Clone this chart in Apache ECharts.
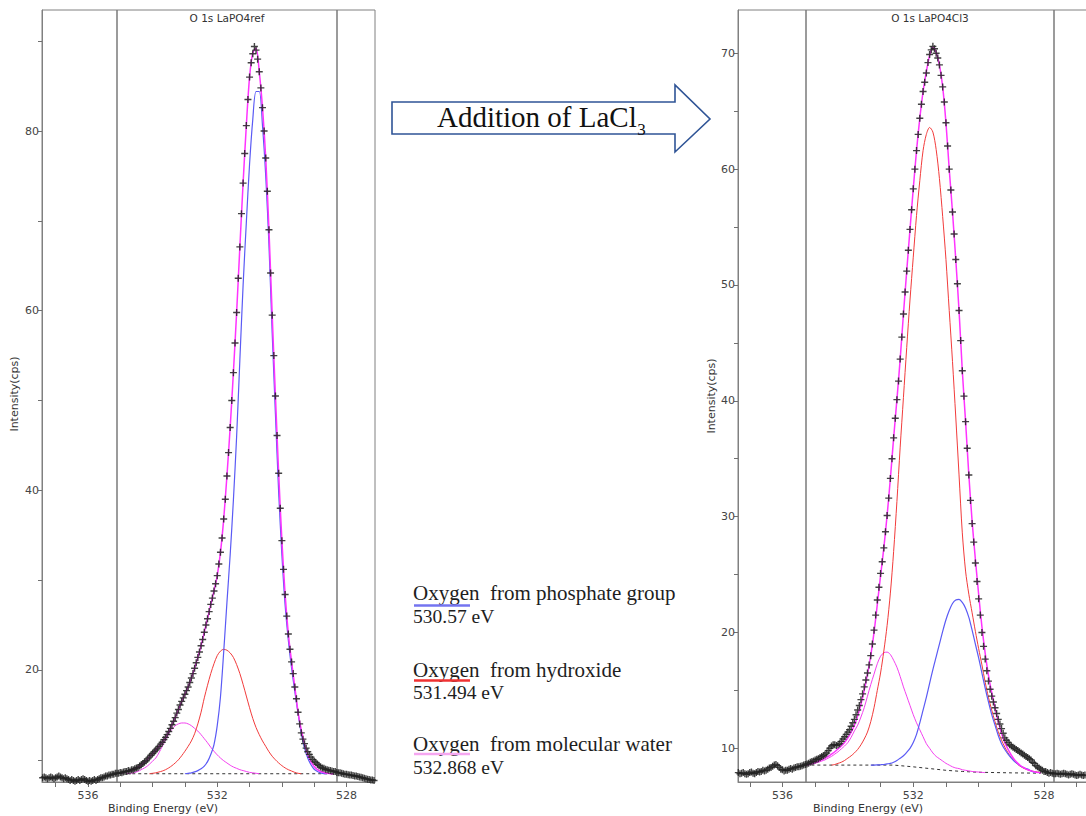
<!DOCTYPE html>
<html><head><meta charset="utf-8">
<script src="https://cdn.jsdelivr.net/npm/echarts@6/dist/echarts.min.js"></script>
<style>html,body{margin:0;padding:0;background:#fff}#c{width:1086px;height:816px}</style>
</head><body><div id="c"></div>
<script>
// ---------------- DATA ----------------
const DATA_STEP = 0.05;   // eV between measured points
const CURVE_STEP = 0.1;   // eV between read-off curve points

// Left spectrum: O 1s LaPO4ref
const leftTitle = 'O 1s LaPO4ref';
const leftDataStart = 537.40;
const leftData = [
8.0,8.1,8.0,7.9,8.0,8.1,8.0,7.9,8.0,8.1,
8.2,8.1,8.0,7.9,8.0,7.9,7.8,7.7,7.8,7.7,
7.6,7.7,7.8,7.7,7.8,7.9,7.8,7.7,7.6,7.7,
7.6,7.7,7.8,7.7,7.8,7.9,8.0,8.0,8.1,8.2,
8.2,8.3,8.3,8.4,8.4,8.5,8.5,
8.5,8.6,8.55,8.65,8.7,8.7,8.8,8.75,8.9,8.9,
9.0,9.1,9.15,9.3,9.45,9.6,9.75,9.9,10.1,10.3,
10.5,10.7,10.9,11.1,11.3,11.5,11.75,11.95,12.25,12.5,
12.8,13.15,13.5,13.9,14.3,14.7,15.2,15.6,16.1,16.5,
16.9,17.3,17.7,18.1,18.6,19.1,19.6,20.2,20.8,21.4,
22.0,22.7,23.4,24.2,25.0,25.7,26.5,27.3,28.0,28.8,
29.6,
30.5,31.8,33.1,34.7,36.8,39.0,41.6,44.2,47.0,50.0,
53.1,56.4,59.8,63.6,67.1,70.8,74.2,77.5,80.6,83.5,
86.0,87.6,88.6,89.4,
89.0,88.0,86.6,84.8,82.6,80.0,77.0,73.3,69.0,64.2,
59.5,55.0,50.5,46.1,41.9,38.0,34.4,31.2,28.4,26.0,
24.0,22.3,20.9,19.6,18.1,16.8,15.3,14.0,13.0,12.3,
11.8,11.3,10.9,10.6,10.3,10.05,9.85,9.7,9.5,9.35,
9.2,9.1,9.05,8.95,8.9,8.85,8.8,8.75,8.7,8.7,
8.6,8.55,8.55,8.5,8.45,8.4,8.4,8.35,8.3,8.3,
8.25,8.2,8.2,8.15,8.1,8.05,8.0,7.95,7.9,7.85,
7.8,7.75,7.75,7.7,7.7
];
const leftEnvelopeStart = 535.0;
const leftEnvelope = [
8.5,8.6,8.7,8.8,8.95,9.1,9.3,9.6,9.9,10.3,
10.7,11.1,11.5,12.0,12.5,13.15,13.9,14.7,15.6,16.5,
17.3,18.1,19.1,20.2,21.4,22.7,24.2,25.7,27.3,28.8,
30.5,33.1,36.8,41.6,47.0,53.1,59.8,67.1,74.2,80.6,
86.0,88.7,89.2,86.6,82.6,77.0,69.0,59.5,50.5,41.9,
34.4,28.4,24.0,20.9,18.1,15.3,13.3,11.8,10.6,9.8,
9.25,8.9,8.7,8.58,8.5,8.45,8.45
];
const leftPhosphateStart = 533.0;
const leftPhosphate = [
8.45,8.5,8.55,8.65,8.8,9.0,9.3,9.8,10.6,11.7,
13.8,17.0,22.0,27.5,32.8,38.9,46.0,54.5,62.8,69.8,
76.3,81.3,84.4,84.4,80.6,75.0,67.3,57.5,48.5,39.8,
32.8,27.2,23.3,20.2,17.6,15.2,12.9,11.3,10.2,9.45,
8.95,8.7,8.55,8.47,8.45
];
const leftHydroxideStart = 534.1;
const leftHydroxide = [
8.45,8.5,8.55,8.65,8.75,8.9,9.1,9.35,9.65,10.0,
10.45,10.95,11.5,12.1,12.9,14.0,15.3,16.9,18.3,19.6,
20.7,21.6,22.1,22.3,22.2,21.9,21.4,20.6,19.6,18.4,
17.1,15.8,14.6,13.6,12.8,12.1,11.5,10.9,10.4,10.0,
9.65,9.35,9.1,8.9,8.75,8.6,8.5,8.45
];
const leftWaterStart = 534.8;
const leftWater = [
8.45,8.5,8.55,8.65,8.8,9.0,9.2,9.5,9.85,10.2,
10.8,11.5,12.2,12.9,13.4,13.8,14.0,14.1,14.1,14.0,
13.8,13.5,13.2,12.8,12.35,11.9,11.4,10.95,10.55,10.2,
9.9,9.65,9.4,9.2,9.05,8.9,8.8,8.7,8.6,8.55,
8.5,8.45
];
const leftBgEnergy = [535.0, 528.4];
const leftBgValues = [8.45, 8.45];
const leftBounds = [535.1, 528.31];
const leftXTicks = [528,529,530,531,532,533,534,535,536,537];
const leftXLabels = [536,532,528];
const leftYTicks = [10,20,30,40,50,60,70,80,90];
const leftYLabels = [20,40,60,80];

// Right spectrum: O 1s LaPO4Cl3
const rightTitle = 'O 1s LaPO4Cl3';
const rightDataStart = 537.35;
const rightData = [
7.9,7.8,7.85,7.9,7.8,7.75,7.8,7.9,7.95,7.85,
7.8,7.9,8.0,7.95,8.0,8.1,8.05,8.1,8.2,8.3,
8.35,8.45,8.55,8.6,8.5,8.35,8.2,8.15,8.05,8.1,
8.1,8.2,8.25,8.2,8.3,8.35,8.4,8.4,8.45,8.5,
8.55,8.6,
8.65,8.7,8.8,8.85,8.9,9.0,9.05,9.1,9.2,9.3,
9.35,9.45,9.6,9.8,10.0,10.2,10.3,10.3,10.25,10.3,
10.4,10.6,10.8,11.0,11.2,11.4,11.6,11.9,12.2,12.5,
12.9,13.3,13.7,14.2,14.7,15.3,15.9,16.5,17.2,18.0,
19.0,20.2,21.5,22.8,23.9,25.1,
26.1,27.3,28.7,30.1,31.6,33.3,35.0,36.8,38.5,40.1,
41.7,43.6,45.5,47.5,49.4,51.2,53.0,54.8,56.5,58.3,
60.0,61.6,63.0,64.4,65.6,66.7,67.5,68.3,69.2,69.9,
70.3,
70.6,
70.4,70.0,69.6,69.0,68.1,67.1,65.8,64.0,62.0,60.0,
58.2,56.3,54.4,52.2,50.1,47.8,45.2,42.6,40.4,38.2,
35.9,33.6,31.4,29.4,27.8,26.0,24.4,22.9,21.5,20.0,
18.8,17.7,16.7,15.8,15.1,14.5,14.0,13.5,13.0,12.5,
12.1,11.7,11.3,10.9,10.7,10.5,10.3,10.2,10.1,10.0,
9.9,9.8,9.7,9.6,9.5,9.4,9.3,9.2,9.1,9.0,
8.8,8.7,8.5,8.4,8.3,8.2,8.1,8.0,8.0,7.9,
7.85,7.9,7.85,7.8,7.8,7.85,7.8,7.75,7.8,7.85,
7.8,7.75,7.7,7.75,7.8,7.75,7.7,7.65,7.7,7.75,
7.7,7.65,7.7
];
const rightEnvelopeStart = 535.3;
const rightEnvelope = [
8.55,8.6,8.7,8.8,8.9,9.0,9.15,9.3,9.5,9.7,
9.95,10.2,10.5,10.9,11.4,12.0,12.8,13.8,15.0,16.4,
18.0,20.0,22.4,24.9,27.3,30.1,33.3,36.8,40.1,43.6,
47.5,51.2,54.8,58.3,61.6,64.4,66.7,68.4,69.8,70.5,
70.1,69.0,67.1,64.0,60.0,56.3,52.2,47.8,42.6,38.2,
33.6,29.6,26.3,23.3,20.5,18.2,16.3,14.8,13.5,12.3,
11.3,10.5,9.9,9.4,9.0,8.7,8.45,8.3,8.15,8.05,
7.98,7.92,7.88
];
const rightHydroxideStart = 534.5;
const rightHydroxide = [
8.55,8.6,8.7,8.8,8.95,9.15,9.35,9.6,9.9,10.3,
10.8,11.4,12.3,13.5,15.0,16.5,18.4,20.6,23.4,27.0,
31.3,36.0,40.3,44.6,48.7,52.4,56.0,59.0,61.6,63.0,
63.6,63.2,61.7,59.2,55.9,52.2,47.8,43.4,38.6,33.6,
28.6,25.3,23.3,21.7,20.1,18.6,17.2,15.7,14.4,13.3,
12.3,11.4,10.7,10.1,9.6,9.2,8.9,8.6,8.4,8.25,
8.15,8.05,8.0,7.95,7.9
];
const rightPhosphateStart = 533.3;
const rightPhosphate = [
8.55,8.55,8.56,8.58,8.6,8.65,8.7,8.8,8.95,9.15,
9.35,9.65,10.0,10.5,11.2,12.2,13.3,14.4,15.6,16.8,
17.9,19.0,20.1,21.1,21.9,22.5,22.8,22.85,22.6,22.1,
21.3,20.2,19.0,17.8,16.5,15.2,14.0,12.9,12.0,11.1,
10.4,9.9,9.5,9.15,8.85,8.65,8.45,8.3,8.2,8.05,
7.95,7.9
];
const rightWaterStart = 535.3;
const rightWater = [
8.55,8.6,8.65,8.7,8.8,8.9,9.0,9.15,9.3,9.5,
9.7,9.95,10.2,10.5,10.95,11.5,12.0,12.7,13.5,14.5,
15.5,16.4,17.3,17.95,18.25,18.3,18.1,17.6,17.0,16.2,
15.3,14.5,13.7,12.9,12.2,11.6,11.0,10.4,10.0,9.6,
9.3,9.1,8.9,8.7,8.55,8.4,8.3,8.25,8.15,8.1,
8.05,8.0,7.97,7.95,7.92,7.9
];
const rightBgEnergy = [535.3, 533.0, 532.6, 532.0, 531.5, 531.0, 530.5, 530.0, 529.0, 528.1];
const rightBgValues = [8.55, 8.55, 8.55, 8.4, 8.25, 8.1, 8.0, 7.93, 7.88, 7.85];
const rightBounds = [535.29, 527.69];
const rightXTicks = [527,528,529,530,531,532,533,534,535,536,537];
const rightXLabels = [536,532,528];
const rightYTicks = [10,15,20,25,30,35,40,45,50,55,60,65,70];
const rightYLabels = [10,20,30,40,50,60,70];

// Legend / annotation texts
const arrowText = 'Addition of LaCl';
const arrowSub = '3';
const legendNames = ['Oxygen\u00a0 from phosphate group', 'Oxygen\u00a0 from hydroxide', 'Oxygen\u00a0 from molecular water'];
const legendValues = ['530.57 eV', '531.494 eV', '532.868 eV'];

// ---------------- BUILD ----------------
const UI = '"DejaVu Sans", sans-serif';
const SERIF = '"Liberation Serif", "Times New Roman", serif';
const C_BLUE = '#5a5af5', C_RED = '#f23b3b', C_MAG = '#f440f0', C_ENV = '#ff33ff';

function grid(start, step, vals) {
  return vals.map((v, i) => [+(start - i * step).toFixed(2), v]);
}
function pairs(xs, ys) { return xs.map((x, i) => [x, ys[i]]); }

function mkX(gi, min, max, ticks, labels) {
  return { type: 'value', gridIndex: gi, inverse: true, min, max,
    axisLine: { show: true, onZero: false, lineStyle: { color: '#808080', width: 1 } },
    axisTick: { show: true, customValues: ticks, length: 5, lineStyle: { color: '#707070' } },
    axisLabel: { show: true, customValues: labels, fontSize: 11, color: '#444', fontFamily: UI, margin: 8 },
    splitLine: { show: false } };
}
function mkY(gi, min, max, ticks, labels) {
  return { type: 'value', gridIndex: gi, min, max,
    axisLine: { show: true, onZero: false, lineStyle: { color: '#808080', width: 1 } },
    axisTick: { show: true, customValues: ticks, length: 4, lineStyle: { color: '#707070' } },
    axisLabel: { show: true, customValues: labels, fontSize: 11, color: '#444', fontFamily: UI, margin: 3 },
    splitLine: { show: false } };
}
function curve(gi, pts, color, width, z) {
  return { type: 'line', xAxisIndex: gi, yAxisIndex: gi, data: pts, symbol: 'none', showSymbol: false,
    smooth: 0.3, silent: true, z: z, lineStyle: { color: color, width: width } };
}
function bgLine(gi, pts, bounds) {
  return { type: 'line', xAxisIndex: gi, yAxisIndex: gi, data: pts, symbol: 'none', silent: true, z: 2,
    lineStyle: { color: '#333', width: 1, type: [3, 3] },
    markLine: { silent: true, symbol: ['none', 'none'], label: { show: false },
      lineStyle: { color: '#7a7a7a', width: 1.5, type: 'solid' },
      data: bounds.map(v => ({ xAxis: v })) } };
}
const CROSS = 'path://M4,0H6V4H10V6H6V10H4V6H0V4H4Z';
function dots(gi, pts) {
  return { type: 'scatter', xAxisIndex: gi, yAxisIndex: gi, data: pts, symbol: CROSS, symbolSize: 7,
    silent: true, z: 10, itemStyle: { color: '#222', opacity: 0.85 } };
}

const ARROW_FONT = '29px "Liberation Serif"';
const ctx = document.createElement('canvas').getContext('2d');
ctx.font = ARROW_FONT;
const arrowTextW = ctx.measureText(arrowText).width;

function txt(x, y, text, font, color, align, rot) {
  return { type: 'text', x: x, y: y, rotation: rot || 0, silent: true,
    style: { text: text, font: font, fill: color, align: align || 'left', verticalAlign: 'middle' } };
}
function uline(x1, x2, y, color) {
  return { type: 'line', silent: true, shape: { x1: x1, y1: y, x2: x2, y2: y }, style: { stroke: color, lineWidth: 2.5 } };
}

const legendY = [[592.5, 616.5, 605.5], [669.5, 692, 680.5], [743.5, 767, 754]];
const legendColors = ['#7474f0', '#f03232', '#f5a6f0'];
const legendGraphics = [];
legendNames.forEach((n, i) => {
  legendGraphics.push(txt(413, legendY[i][0], n, '21px ' + SERIF, '#1e1e1e'));
  legendGraphics.push(uline(414, 470, legendY[i][2], legendColors[i]));
  legendGraphics.push(txt(413, legendY[i][1], legendValues[i], '19.5px ' + SERIF, '#1e1e1e'));
});

const option = {
  animation: false,
  backgroundColor: '#fff',
  grid: [
    { left: 42, top: 10, width: 333, height: 772, show: true, borderColor: '#808080', borderWidth: 1, outerBoundsMode: 'none', containLabel: false },
    { left: 738, top: 10, width: 360, height: 772, show: true, borderColor: '#808080', borderWidth: 1, outerBoundsMode: 'none', containLabel: false }
  ],
  xAxis: [ mkX(0, 527.12, 537.42, leftXTicks, leftXLabels), mkX(1, 526.35, 537.36, rightXTicks, rightXLabels) ],
  yAxis: [ mkY(0, 7.53, 93.47, leftYTicks, leftYLabels), mkY(1, 7.09, 73.74, rightYTicks, rightYLabels) ],
  series: [
    bgLine(0, pairs(leftBgEnergy, leftBgValues), leftBounds),
    curve(0, grid(leftWaterStart, CURVE_STEP, leftWater), C_MAG, 1, 3),
    curve(0, grid(leftHydroxideStart, CURVE_STEP, leftHydroxide), C_RED, 1, 3),
    curve(0, grid(leftPhosphateStart, CURVE_STEP, leftPhosphate), C_BLUE, 1.2, 3),
    curve(0, grid(leftEnvelopeStart, CURVE_STEP, leftEnvelope), C_ENV, 1.5, 4),
    dots(0, grid(leftDataStart, DATA_STEP, leftData)),
    bgLine(1, pairs(rightBgEnergy, rightBgValues), rightBounds),
    curve(1, grid(rightWaterStart, CURVE_STEP, rightWater), C_MAG, 1, 3),
    curve(1, grid(rightHydroxideStart, CURVE_STEP, rightHydroxide), C_RED, 1, 3),
    curve(1, grid(rightPhosphateStart, CURVE_STEP, rightPhosphate), C_BLUE, 1.2, 3),
    curve(1, grid(rightEnvelopeStart, CURVE_STEP, rightEnvelope), C_ENV, 1.5, 4),
    dots(1, grid(rightDataStart, DATA_STEP, rightData))
  ],
  graphic: [
    txt(227, 18, leftTitle, '10.5px ' + UI, '#333', 'center'),
    txt(930, 18, rightTitle, '10.5px ' + UI, '#333', 'center'),
    txt(163, 808, 'Binding Energy (eV)', '11px ' + UI, '#333', 'center'),
    txt(868, 808, 'Binding Energy (eV)', '11px ' + UI, '#333', 'center'),
    txt(14, 394, 'Intensity(cps)', '11px ' + UI, '#333', 'center', Math.PI / 2),
    txt(711, 396, 'Intensity(cps)', '11px ' + UI, '#333', 'center', Math.PI / 2),
    { type: 'polygon', silent: true,
      shape: { points: [[392,102],[675,102],[675,85],[710,119],[675,152],[675,134],[392,134]] },
      style: { fill: '#fff', stroke: '#2f5496', lineWidth: 1.6 } },
    txt(437, 117, arrowText, ARROW_FONT, '#111'),
    txt(437 + arrowTextW + 0.5, 129.5, arrowSub, '17px ' + SERIF, '#111')
  ].concat(legendGraphics)
};

const chart = echarts.init(document.getElementById('c'), null, { renderer: 'svg' });
chart.setOption(option);
</script></body></html>
